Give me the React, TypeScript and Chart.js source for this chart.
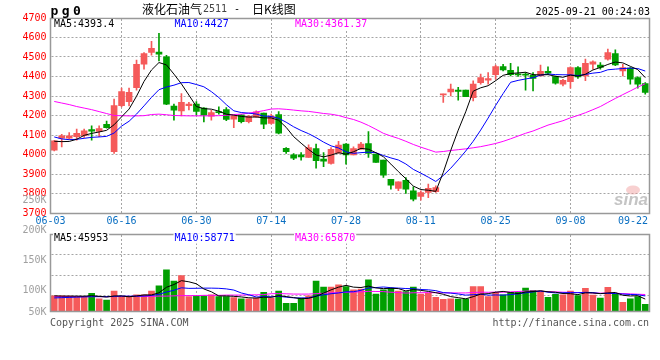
import React, { useEffect, useRef } from "react";
import { Chart, registerables } from "chart.js";

Chart.register(...registerables);

// ---------- data ----------
const dates = [
  "06-03", "06-04", "06-05", "06-06", "06-09", "06-10", "06-11", "06-12", "06-13", "06-16",
  "06-17", "06-18", "06-19", "06-20", "06-23", "06-24", "06-25", "06-26", "06-27", "06-30",
  "07-01", "07-02", "07-03", "07-04", "07-07", "07-08", "07-09", "07-10", "07-11", "07-14",
  "07-15", "07-16", "07-17", "07-18", "07-21", "07-22", "07-23", "07-24", "07-25", "07-28",
  "07-29", "07-30", "07-31", "08-01", "08-04", "08-05", "08-06", "08-07", "08-08", "08-11",
  "08-12", "08-13", "08-14", "08-15", "08-18", "08-19", "08-20", "08-21", "08-22", "08-25",
  "08-26", "08-27", "08-28", "08-29", "09-01", "09-02", "09-03", "09-04", "09-05", "09-08",
  "09-09", "09-10", "09-11", "09-12", "09-15", "09-16", "09-17", "09-18", "09-19", "09-22",
];

const tickLabels = ["06-03", "06-16", "06-30", "07-14", "07-28", "08-11", "08-25", "09-08", "09-22"];

const opens = [
  4022, 4084, 4084, 4091, 4096, 4128, 4118, 4155, 4015, 4250,
  4271, 4343, 4463, 4523, 4525, 4501, 4248, 4224, 4250, 4258,
  4238, 4197, 4219, 4231, 4181, 4203, 4169, 4193, 4212, 4159,
  4205, 4032, 3998, 3998, 3985, 4031, 3976, 3954, 4010, 4053,
  3998, 4027, 4056, 4002, 3971, 3873, 3826, 3868, 3814, 3785,
  3805, 3810, 4306, 4321, 4330, 4330, 4292, 4369, 4381, 4409,
  4451, 4432, 4414, 4412, 4407, 4403, 4426, 4400, 4361, 4373,
  4446, 4403, 4463, 4458, 4489, 4518, 4429, 4443, 4395, 4364,
];

const closes = [
  4070, 4096, 4096, 4108, 4121, 4120, 4133, 4138, 4251, 4323,
  4319, 4463, 4518, 4544, 4514, 4258, 4227, 4267, 4258, 4221,
  4202, 4215, 4215, 4180, 4198, 4169, 4197, 4219, 4156, 4197,
  4109, 4015, 3981, 3988, 4036, 3968, 3966, 4027, 4048, 3998,
  4031, 4053, 4005, 3959, 3894, 3843, 3860, 3822, 3771, 3805,
  3826, 3831, 4309, 4335, 4323, 4296, 4361, 4395, 4389, 4451,
  4434, 4409, 4408, 4407, 4390, 4426, 4417, 4366, 4381, 4446,
  4398, 4467, 4475, 4446, 4523, 4460, 4446, 4386, 4361, 4318,
];

const highs = [
  4072, 4104, 4113, 4130, 4130, 4147, 4147, 4171, 4284, 4340,
  4340, 4484, 4523, 4580, 4622, 4509, 4258, 4313, 4268, 4272,
  4241, 4227, 4244, 4241, 4198, 4205, 4200, 4224, 4212, 4207,
  4220, 4036, 4005, 4010, 4050, 4053, 4010, 4036, 4067, 4056,
  4039, 4062, 4118, 4002, 3971, 3873, 3860, 3882, 3834, 3814,
  3848, 3839, 4310, 4361, 4344, 4330, 4378, 4412, 4420, 4458,
  4463, 4467, 4450, 4420, 4420, 4458, 4450, 4402, 4386, 4450,
  4451, 4489, 4480, 4472, 4540, 4537, 4463, 4446, 4398, 4369,
];

const lows = [
  4018, 4039, 4079, 4074, 4087, 4074, 4092, 4135, 4005, 4244,
  4249, 4330, 4438, 4509, 4480, 4255, 4176, 4198, 4229, 4202,
  4167, 4176, 4207, 4173, 4138, 4162, 4162, 4190, 4133, 4156,
  4106, 4005, 3974, 3971, 3985, 3930, 3938, 3950, 4005, 3950,
  3998, 4027, 3985, 3959, 3882, 3822, 3814, 3800, 3762, 3766,
  3779, 3805, 4267, 4301, 4279, 4296, 4275, 4361, 4361, 4386,
  4429, 4403, 4400, 4330, 4326, 4403, 4412, 4361, 4352, 4340,
  4390, 4378, 4438, 4438, 4484, 4455, 4403, 4361, 4340, 4309,
];

const volumes = [
  59000, 59000, 58000, 56000, 56000, 69000, 47000, 43000, 78000, 56000,
  53000, 63000, 63000, 78000, 98000, 160000, 117000, 138000, 56000, 59000,
  59000, 63000, 56000, 56000, 52000, 47000, 47000, 50000, 73000, 50000,
  78000, 30000, 30000, 50000, 59000, 117000, 93000, 93000, 102000, 95000,
  82000, 85000, 121000, 66000, 82000, 89000, 78000, 76000, 93000, 66000,
  69000, 53000, 45000, 47000, 46000, 46000, 95000, 95000, 56000, 73000,
  63000, 73000, 73000, 89000, 81000, 78000, 53000, 65000, 63000, 78000,
  60000, 88000, 62000, 50000, 92000, 69000, 34000, 47000, 56000, 26000,
];

// moving-average values before a full window exists
const ma5Head = [4068, 4066, 4067, 4078];
const ma10Head = [4090, 4080, 4076, 4078, 4083, 4088, 4090, 4093, 4110];
const ma30Head = [
  4272, 4264, 4256, 4246, 4238, 4230, 4220, 4210, 4200, 4199,
  4198, 4198, 4199, 4205, 4207, 4204, 4200, 4199, 4198, 4198,
  4198, 4198, 4199, 4201, 4205, 4207, 4212, 4218, 4225,
];
const volMa5Head = [59000, 58000, 58000, 58000];
const volMa10Head = [51000, 52000, 53000, 54000, 55000, 56000, 56000, 56000, 57000];
const volMa30Head = [
  56000, 56000, 56000, 56000, 56000, 56000, 56000, 56000, 56000, 57000,
  57000, 57000, 57000, 57000, 58000, 58000, 59000, 60000, 60000, 60000,
  61000, 61000, 61000, 62000, 62000, 62000, 63000, 63000, 64000,
];

const priceGridValues = [3800, 3900, 4000, 4100, 4200, 4300, 4400, 4500, 4600];
const volumeGridValues = [60000, 140000, 220000];

const symbolChars = ["p", "g", "0"];
const titleName = "液化石油气";
const titleCode = "2511";
const titleDash = "-";
const titleKind = "日K线图";
const timestamp = "2025-09-21 00:24:03";
const priceMaLabels = ["MA5:4393.4", "MA10:4427", "MA30:4361.37"];
const volumeMaLabels = ["MA5:45953", "MA10:58771", "MA30:65870"];
const volumeAxisLabels = ["250K", "200K", "150K", "100K", "50K"];
const copyrightText = "Copyright 2025 SINA.COM";
const urlText = "http://finance.sina.com.cn";

// ---------- styles ----------
const MONO = '"DejaVu Sans Mono", "Liberation Mono", monospace';
const CJK = '"Noto Sans CJK SC", sans-serif';
const RED = "#f55a5a";
const GREEN = "#009f00";
const GRID = "rgb(165,165,165)";
const BORDER = "#999999";
const MA_COLORS = ["#000000", "#0000ff", "#ff00ff"];
const X_LABEL = "#0a6fc2";

function movingAverage(values: number[], n: number, head: number[]): number[] {
  return values.map((_, i) => {
    if (i < n - 1) return head[i];
    let s = 0;
    for (let k = i - n + 1; k <= i; k++) s += values[k];
    return s / n;
  });
}

function lineDs(data: number[], color: string) {
  return {
    type: "line" as const,
    data,
    borderColor: color,
    backgroundColor: color,
    borderWidth: 1,
    pointRadius: 0,
    fill: false,
    tension: 0,
    order: 0,
  };
}

function drawBorder(ctx: CanvasRenderingContext2D, a: any) {
  ctx.strokeStyle = BORDER;
  ctx.lineWidth = 1.5;
  ctx.setLineDash([]);
  const x = Math.floor(a.left) + 0.5;
  const y = Math.floor(a.top) + 0.5;
  ctx.strokeRect(x, y, Math.round(a.right - a.left), Math.round(a.bottom - a.top));
}

// dotted grid lines, placed with the chart's own scales
function drawDottedGrid(chart: any, yValues: number[], xIndices: number[]) {
  const ctx: CanvasRenderingContext2D = chart.ctx;
  const a = chart.chartArea;
  const ys = chart.scales["y"];
  const xs = chart.scales["x"];
  ctx.save();
  ctx.strokeStyle = GRID;
  ctx.lineWidth = 1;
  ctx.setLineDash([2, 2]);
  ctx.beginPath();
  yValues.forEach((v) => {
    const y = Math.floor(ys.getPixelForValue(v)) + 0.5;
    ctx.moveTo(a.left + 1, y);
    ctx.lineTo(a.right, y);
  });
  xIndices.forEach((i) => {
    const x = Math.floor(xs.getPixelForValue(i)) + 0.5;
    ctx.moveTo(x, a.top + 1);
    ctx.lineTo(x, a.bottom);
  });
  ctx.stroke();
  ctx.restore();
}

function drawMaLabels(ctx: CanvasRenderingContext2D, a: any, labels: string[], y: number) {
  ctx.font = `10px ${MONO}`;
  ctx.textBaseline = "middle";
  ctx.textAlign = "left";
  labels.forEach((t, k) => {
    const x = a.left + 3.5 + k * 120.5;
    const w = ctx.measureText(t).width;
    ctx.fillStyle = "#ffffff";
    ctx.fillRect(x - 1, y - 5, w + 2, 10);
    ctx.fillStyle = MA_COLORS[k];
    ctx.fillText(t, x, y);
  });
}

export default function App() {
  const priceRef = useRef<HTMLCanvasElement>(null);
  const volRef = useRef<HTMLCanvasElement>(null);

  useEffect(() => {
    document.body.style.margin = "0";
    const up = closes.map((c, i) => c >= opens[i]);
    const colors = up.map((u) => (u ? RED : GREEN));
    const tickIdx = tickLabels.map((t) => dates.indexOf(t));
    const gridIdx = tickIdx.slice(1, -1);

    const ma5 = movingAverage(closes, 5, ma5Head);
    const ma10 = movingAverage(closes, 10, ma10Head);
    const ma30 = movingAverage(closes, 30, ma30Head);
    const vma5 = movingAverage(volumes, 5, volMa5Head);
    const vma10 = movingAverage(volumes, 10, volMa10Head);
    const vma30 = movingAverage(volumes, 30, volMa30Head);

    const pricePlugin = {
      id: "priceDecor",
      beforeDatasetsDraw(chart: any) {
        const { ctx, chartArea: a } = chart;
        drawDottedGrid(chart, priceGridValues, gridIdx);
        ctx.save();
        // sina watermark
        ctx.fillStyle = "rgba(240,150,150,0.45)";
        ctx.beginPath();
        ctx.ellipse(a.right - 16, a.bottom - 23, 7, 4.5, 0, 0, Math.PI * 2);
        ctx.fill();
        ctx.fillStyle = "#c4c4c4";
        ctx.font = 'italic bold 17px "Liberation Sans", sans-serif';
        ctx.textBaseline = "alphabetic";
        ctx.textAlign = "right";
        ctx.fillText("sina", a.right - 1, a.bottom - 8);
        ctx.restore();
      },
      afterDraw(chart: any) {
        const { ctx, chartArea: a } = chart;
        ctx.save();
        drawBorder(ctx, a);
        drawMaLabels(ctx, a, priceMaLabels, a.top + 6);

        // header
        ctx.fillStyle = "#000";
        ctx.font = `bold 13px ${MONO}`;
        ctx.textBaseline = "alphabetic";
        ctx.textAlign = "left";
        symbolChars.forEach((c, k) => ctx.fillText(c, 50.5 + k * 11.3, 14.5));

        ctx.textBaseline = "middle";
        ctx.font = `12px ${CJK}`;
        ctx.fillStyle = "#000";
        ctx.fillText(titleName, 142, 9.5);
        const nameW = ctx.measureText(titleName).width;
        ctx.font = `10px ${MONO}`;
        ctx.fillStyle = "#444";
        ctx.fillText(titleCode, 142 + nameW + 1, 9.5);
        ctx.fillStyle = "#000";
        ctx.fillText(titleDash, 234, 9.5);
        ctx.font = `12px ${CJK}`;
        ctx.fillText(titleKind, 252, 9.5);

        ctx.font = `10px ${MONO}`;
        ctx.textAlign = "right";
        ctx.fillText(timestamp, a.right + 1, 12);

        // x labels
        const xs = chart.scales.x;
        ctx.textAlign = "left";
        ctx.fillStyle = X_LABEL;
        tickIdx.forEach((idx, k) => {
          const t = tickLabels[k];
          const w = ctx.measureText(t).width;
          const cx = k === 0 ? a.left : xs.getPixelForValue(idx);
          const x0 = Math.min(cx - w / 2, a.right - w - 1);
          ctx.fillText(t, x0, a.bottom + 8.5);
        });
        ctx.restore();
      },
    };

    const volPlugin = {
      id: "volDecor",
      beforeDatasetsDraw(chart: any) {
        drawDottedGrid(chart, volumeGridValues, gridIdx);
      },
      afterDraw(chart: any) {
        const { ctx, chartArea: a } = chart;
        ctx.save();
        drawBorder(ctx, a);
        drawMaLabels(ctx, a, volumeMaLabels, a.top + 4.5);
        ctx.font = `10px ${MONO}`;
        ctx.textBaseline = "middle";
        ctx.textAlign = "right";
        ctx.fillStyle = "#a0a0a0";
        volumeAxisLabels.forEach((t, k) => {
          const y = Math.min(a.top - 34 + k * 30, a.bottom + 1);
          ctx.fillText(t, a.left - 4, y);
        });
        ctx.fillStyle = "#555";
        ctx.textAlign = "left";
        ctx.fillText(copyrightText, a.left - 0.5, a.bottom + 12.5);
        ctx.textAlign = "right";
        ctx.fillText(urlText, a.right, a.bottom + 12.5);
        ctx.restore();
      },
    };

    Chart.defaults.font.family = MONO;

    const xScale = {
      type: "category",
      offset: true,
      afterFit: (s: any) => {
        s.height = 0;
      },
      ticks: { display: false, autoSkip: false },
      grid: { display: false, drawTicks: false },
      border: { display: false },
    };

    const priceChart = new Chart(priceRef.current as HTMLCanvasElement, {
      type: "bar",
      data: {
        labels: dates,
        datasets: [
          lineDs(ma5, MA_COLORS[0]),
          lineDs(ma10, MA_COLORS[1]),
          lineDs(ma30, MA_COLORS[2]),
          {
            type: "bar",
            data: opens.map((o, i) => [o, closes[i]]),
            backgroundColor: colors,
            barThickness: 6,
            minBarLength: 1,
            grouped: false,
            order: 1,
          },
          {
            type: "bar",
            data: lows.map((l, i) => [l, highs[i]]),
            backgroundColor: colors,
            barThickness: 1,
            grouped: false,
            order: 2,
          },
        ] as any,
      },
      options: {
        responsive: false,
        animation: false,
        events: [],
        layout: { padding: { left: 0, right: 11, top: 18, bottom: 147 } },
        plugins: { legend: { display: false }, tooltip: { enabled: false } },
        scales: {
          x: xScale,
          y: {
            min: 3700,
            max: 4700,
            afterFit: (s: any) => {
              s.width = 50.5;
            },
            ticks: {
              stepSize: 100,
              color: "#ff0000",
              font: { family: MONO, size: 10 },
              padding: 4,
              callback: (v: any) => String(v),
            },
            grid: { display: false, drawTicks: false },
            border: { display: false },
          },
        },
      } as any,
      plugins: [pricePlugin],
    });

    const volChart = new Chart(volRef.current as HTMLCanvasElement, {
      type: "bar",
      data: {
        labels: dates,
        datasets: [
          lineDs(vma5, MA_COLORS[0]),
          lineDs(vma10, MA_COLORS[1]),
          lineDs(vma30, MA_COLORS[2]),
          {
            type: "bar",
            data: volumes,
            backgroundColor: colors,
            barThickness: 6,
            grouped: false,
            order: 1,
          },
        ] as any,
      },
      options: {
        responsive: false,
        animation: false,
        events: [],
        layout: { padding: { left: 0, right: 11, top: 234, bottom: 49 } },
        plugins: { legend: { display: false }, tooltip: { enabled: false } },
        scales: {
          x: xScale,
          y: {
            min: 0,
            max: 300000,
            afterFit: (s: any) => {
              s.width = 50.5;
            },
            ticks: { display: false },
            grid: { display: false, drawTicks: false },
            border: { display: false },
          },
        },
      } as any,
      plugins: [volPlugin],
    });

    return () => {
      priceChart.destroy();
      volChart.destroy();
    };
  }, []);

  const canvasStyle: React.CSSProperties = {
    position: "absolute",
    left: 0,
    top: 0,
    width: 660,
    height: 360,
  };

  return (
    <div style={{ position: "relative", width: 660, height: 360, background: "#fff" }}>
      <canvas ref={priceRef} width={660} height={360} style={canvasStyle} />
      <canvas ref={volRef} width={660} height={360} style={canvasStyle} />
    </div>
  );
}
